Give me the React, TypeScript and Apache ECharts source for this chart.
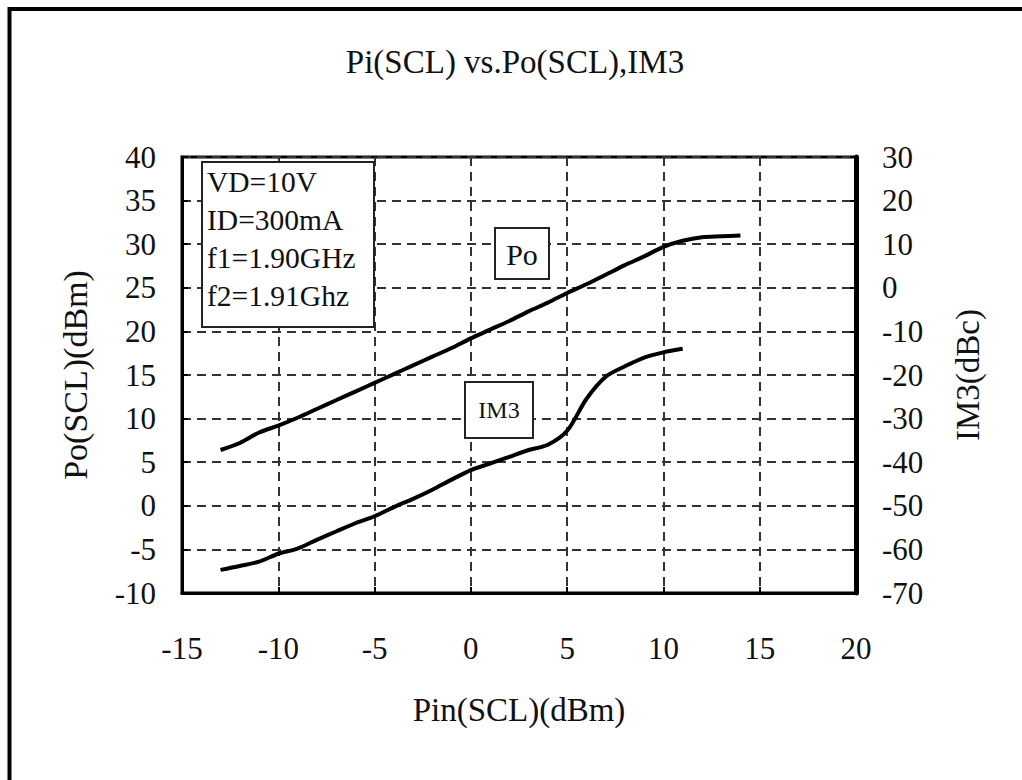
import React, { useEffect, useRef } from "react";
import * as echarts from "echarts";

// Pin (dBm) sample points and measured curves
const pinPo = [-13, -12, -11, -10, -9, -8, -7, -6, -5, -4, -3, -2, -1, 0, 1, 2, 3, 4, 5, 6, 7, 8, 9, 10, 11, 12, 13, 14];
const poValues = [6.4, 7.2, 8.4, 9.2, 10.1, 11.1, 12.1, 13.1, 14.1, 15.1, 16.1, 17.1, 18.1, 19.2, 20.2, 21.2, 22.3, 23.3, 24.4, 25.4, 26.5, 27.6, 28.6, 29.7, 30.4, 30.8, 30.9, 31.0];
const pinIm3 = [-13, -12, -11, -10, -9, -8, -7, -6, -5, -4, -3, -2, -1, 0, 1, 2, 3, 4, 5, 6, 7, 8, 9, 10, 11];
const im3Values = [-64.7, -63.8, -62.8, -61.0, -59.8, -57.8, -55.9, -54.0, -52.4, -50.3, -48.4, -46.3, -44.0, -41.8, -40.3, -38.8, -37.2, -36.0, -32.8, -25.5, -20.4, -18.0, -16.0, -14.8, -14.0];

const titleText = "Pi(SCL) vs.Po(SCL),IM3";
const xName = "Pin(SCL)(dBm)";
const yLeftName = "Po(SCL)(dBm)";
const yRightName = "IM3(dBc)";
const conditionLines = ["VD=10V", "ID=300mA", "f1=1.90GHz", "f2=1.91Ghz"];

const FONT = "'Liberation Serif', 'Times New Roman', serif";

export default function App() {
  const ref = useRef<HTMLDivElement>(null);
  useEffect(() => {
    if (!ref.current) return;
    const chart = echarts.init(ref.current, undefined, { renderer: "svg" });
    const gridLine = { show: true, lineStyle: { color: "#333", width: 2, type: [9, 6] as any } };
    const labelStyle = { color: "#111", fontFamily: FONT, fontSize: 31 };
    chart.setOption({
      animation: false,
      backgroundColor: "#fff",
      title: {
        text: titleText,
        left: 510,
        top: 40,
        textAlign: "center",
        textStyle: { fontFamily: FONT, fontSize: 33, fontWeight: "normal", color: "#111" },
      },
      grid: {
        left: 182,
        top: 157,
        width: 674,
        height: 436,
        show: true,
        borderColor: "#000",
        borderWidth: 3,
        backgroundColor: "transparent",
      },
      xAxis: {
        type: "value",
        min: -15,
        max: 20,
        interval: 5,
        name: xName,
        nameLocation: "middle",
        nameGap: 100,
        nameTextStyle: { fontFamily: FONT, fontSize: 33, color: "#111" },
        axisLine: { show: true, onZero: false, lineStyle: { color: "#000", width: 3 } },
        axisTick: { show: true, inside: true, length: 6, lineStyle: { color: "#000", width: 2 } },
        axisLabel: { ...labelStyle, margin: 40 },
        splitLine: gridLine,
      },
      yAxis: [
        {
          type: "value",
          min: -10,
          max: 40,
          interval: 5,
          name: yLeftName,
          nameLocation: "middle",
          nameGap: 90,
          nameRotate: 90,
          nameTextStyle: { fontFamily: FONT, fontSize: 34, color: "#111" },
          axisLine: { show: true, onZero: false, lineStyle: { color: "#000", width: 3 } },
          axisTick: { show: true, inside: true, length: 6, lineStyle: { color: "#000", width: 2 } },
          axisLabel: { ...labelStyle, margin: 26 },
          splitLine: gridLine,
        },
        {
          type: "value",
          min: -70,
          max: 30,
          interval: 10,
          position: "right",
          name: yRightName,
          nameLocation: "middle",
          nameGap: 95,
          nameRotate: 90,
          nameTextStyle: { fontFamily: FONT, fontSize: 33, color: "#111" },
          axisLine: { show: true, onZero: false, lineStyle: { color: "#000", width: 5 } },
          axisTick: { show: true, inside: true, length: 6, lineStyle: { color: "#000", width: 2 } },
          axisLabel: { ...labelStyle, margin: 26 },
          splitLine: { show: false },
        },
      ],
      series: [
        {
          name: "Po",
          type: "line",
          yAxisIndex: 0,
          data: pinPo.map((x, i) => [x, poValues[i]]),
          showSymbol: false,
          smooth: 0.3,
          lineStyle: { color: "#000", width: 4 },
          z: 5,
        },
        {
          name: "IM3",
          type: "line",
          yAxisIndex: 1,
          data: pinIm3.map((x, i) => [x, im3Values[i]]),
          showSymbol: false,
          smooth: 0.3,
          lineStyle: { color: "#000", width: 4 },
          z: 5,
        },
      ],
      graphic: [
        {
          type: "rect",
          z: 1,
          shape: { x: 9.5, y: 9, width: 1200, height: 1000 },
          style: { fill: "none", stroke: "#000", lineWidth: 4 },
          silent: true,
        },
        {
          type: "rect",
          z: 100,
          shape: { x: 202, y: 162, width: 172, height: 165 },
          style: { fill: "#fff", stroke: "#222", lineWidth: 2 },
        },
        ...conditionLines.map((t, i) => ({
          type: "text",
          z: 101,
          x: 207,
          y: 182 + i * 38,
          style: { text: t, fontFamily: FONT, fontSize: 29.5, fill: "#111", textVerticalAlign: "middle" },
        })),
        {
          type: "rect",
          z: 100,
          shape: { x: 495, y: 228, width: 54, height: 51 },
          style: { fill: "#fff", stroke: "#222", lineWidth: 2 },
        },
        {
          type: "text",
          z: 101,
          x: 522,
          y: 254,
          style: { text: "Po", fontFamily: FONT, fontSize: 30, fill: "#111", textAlign: "center", textVerticalAlign: "middle" },
        },
        {
          type: "rect",
          z: 100,
          shape: { x: 465, y: 382, width: 68, height: 56 },
          style: { fill: "#fff", stroke: "#222", lineWidth: 2 },
        },
        {
          type: "text",
          z: 101,
          x: 499,
          y: 410,
          style: { text: "IM3", fontFamily: FONT, fontSize: 24, fill: "#111", textAlign: "center", textVerticalAlign: "middle" },
        },
      ],
    });
    return () => chart.dispose();
  }, []);
  return (
    <div
      ref={ref}
      style={{ position: "fixed", left: 0, top: 0, width: 1022, height: 780, background: "#fff" }}
    />
  );
}
